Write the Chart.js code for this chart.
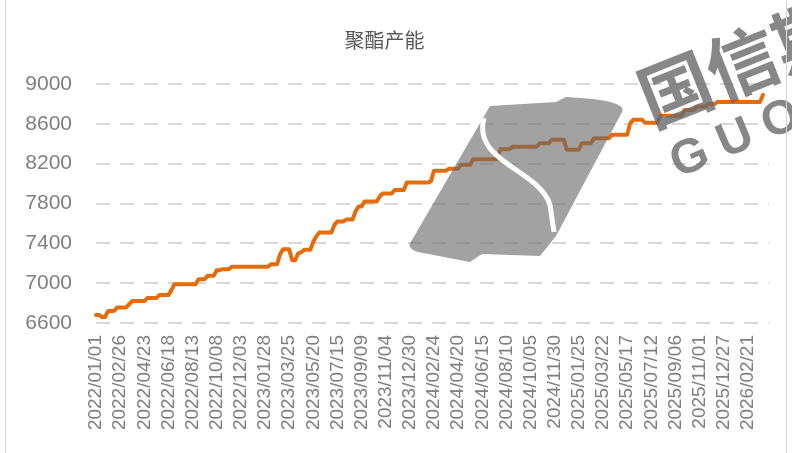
<!DOCTYPE html>
<html>
<head>
<meta charset="utf-8">
<script src="https://cdn.jsdelivr.net/npm/chart.js@4.4.1/dist/chart.umd.min.js"></script>
<style>
  html, body { margin: 0; padding: 0; background: #fff; }
  #wrap { position: relative; width: 792px; height: 453px; }
  #frame { position: absolute; left: 5px; top: 0; width: 780px; height: 453px;
           border-left: 1px solid #d9d9d9; border-right: 1px solid #d9d9d9; pointer-events: none; }
</style>
</head>
<body>
<div id="wrap">
  <canvas id="capacity" width="792" height="453"></canvas>
  <div id="frame"></div>
</div>
<script>
// weekly series starting 2022/01/01, 8 weeks per row
var firstWeek = '2022/01/01';
var weekCount = 224;

var capacity = [
  6680, 6680, 6660, 6660, 6720, 6720, 6720, 6755,
  6755, 6755, 6755, 6790, 6820, 6820, 6820, 6820,
  6820, 6850, 6850, 6850, 6850, 6880, 6880, 6880,
  6880, 6930, 6990, 6990, 6990, 6990, 6990, 6990,
  6990, 6990, 7040, 7040, 7040, 7075, 7075, 7075,
  7130, 7130, 7140, 7140, 7140, 7165, 7165, 7165,
  7165, 7165, 7165, 7165, 7165, 7165, 7165, 7165,
  7165, 7165, 7190, 7190, 7190, 7290, 7340, 7340,
  7340, 7230, 7230, 7300, 7310, 7335, 7335, 7335,
  7415, 7470, 7510, 7510, 7510, 7510, 7510, 7585,
  7620, 7620, 7620, 7640, 7640, 7640, 7720, 7770,
  7770, 7820, 7820, 7820, 7820, 7820, 7870, 7900,
  7900, 7900, 7900, 7935, 7935, 7935, 7935, 8010,
  8010, 8010, 8010, 8010, 8010, 8010, 8010, 8025,
  8130, 8130, 8130, 8130, 8130, 8150, 8150, 8150,
  8150, 8190, 8190, 8190, 8190, 8245, 8245, 8245,
  8245, 8245, 8245, 8245, 8245, 8245, 8345, 8345,
  8345, 8345, 8370, 8370, 8370, 8370, 8370, 8370,
  8370, 8370, 8370, 8405, 8405, 8405, 8405, 8440,
  8440, 8440, 8440, 8440, 8340, 8340, 8340, 8340,
  8340, 8405, 8405, 8405, 8405, 8455, 8455, 8455,
  8455, 8455, 8455, 8490, 8490, 8490, 8490, 8490,
  8490, 8605, 8640, 8640, 8640, 8640, 8610, 8610,
  8610, 8610, 8610, 8680, 8680, 8680, 8680, 8680,
  8680, 8680, 8680, 8740, 8740, 8740, 8740, 8775,
  8775, 8775, 8775, 8800, 8800, 8800, 8820, 8820,
  8820, 8820, 8820, 8820, 8820, 8820, 8820, 8820,
  8820, 8820, 8820, 8820, 8820, 8890, null, null
];

var tickLabels = [
  '2022/01/01', '2022/02/26', '2022/04/23', '2022/06/18', '2022/08/13', '2022/10/08', '2022/12/03',
  '2023/01/28', '2023/03/25', '2023/05/20', '2023/07/15', '2023/09/09', '2023/11/04', '2023/12/30',
  '2024/02/24', '2024/04/20', '2024/06/15', '2024/08/10', '2024/10/05', '2024/11/30',
  '2025/01/25', '2025/03/22', '2025/05/17', '2025/07/12', '2025/09/06', '2025/11/01', '2025/12/27',
  '2026/02/21'
];

var yTicks = [6600, 7000, 7400, 7800, 8200, 8600, 9000];

// category list: one date per week
var categories = [];
var d0 = new Date(firstWeek.replace(/\//g, '-') + 'T00:00:00Z');
for (var i = 0; i < weekCount; i++) {
  var d = new Date(d0.getTime() + i * 7 * 86400000);
  var mm = String(d.getUTCMonth() + 1).padStart(2, '0');
  var dd = String(d.getUTCDate()).padStart(2, '0');
  categories.push(d.getUTCFullYear() + '/' + mm + '/' + dd);
}

// grey company watermark drawn over the line
var watermark = {
  id: 'watermark',
  afterDatasetsDraw: function (chart) {
    var c = chart.ctx;
    c.save();
    c.fillStyle = 'rgba(105,105,105,0.62)';
    c.beginPath();
    c.moveTo(490, 106);
    c.lineTo(556, 102);
    c.lineTo(566, 97);
    c.quadraticCurveTo(628, 100, 622, 112);
    c.lineTo(556, 236);
    c.lineTo(540, 256);
    c.lineTo(482, 254);
    c.lineTo(470, 262);
    c.lineTo(418, 252);
    c.quadraticCurveTo(405, 248, 412, 240);
    c.closePath();
    c.fill();
    c.strokeStyle = '#fff';
    c.lineWidth = 5;
    c.beginPath();
    c.moveTo(484, 118);
    c.bezierCurveTo(472, 162, 540, 170, 550, 205);
    c.lineTo(554, 232);
    c.stroke();

    c.fillStyle = 'rgba(105,105,105,0.8)';
    c.translate(652, 128);
    c.rotate(-0.38);
    c.font = 'bold 72px "Noto Sans CJK SC"';
    c.fillText('国信期货', 0, 0);
    c.restore();

    c.save();
    c.fillStyle = 'rgba(105,105,105,0.8)';
    c.translate(678, 178);
    c.rotate(-0.40);
    c.font = 'bold 48px "Liberation Sans"';
    c.fillText('G U O S E N', 0, 0);
    c.restore();
  }
};

var ctx = document.getElementById('capacity').getContext('2d');

var chart = new Chart(ctx, {
  type: 'line',
  data: {
    labels: categories,
    datasets: [{
      label: '聚酯产能',
      data: capacity,
      borderColor: '#E46C0A',
      backgroundColor: '#E46C0A',
      borderWidth: 4,
      pointRadius: 0,
      tension: 0,
      borderCapStyle: 'round',
      borderJoinStyle: 'round',
      spanGaps: false
    }]
  },
  options: {
    responsive: false,
    animation: false,
    layout: { padding: { left: 0, right: 23, top: 0, bottom: 0 } },
    plugins: {
      legend: { display: false },
      tooltip: { enabled: false },
      title: {
        display: true,
        text: '聚酯产能',
        color: '#595959',
        font: { family: '"Noto Sans CJK SC", sans-serif', size: 20, weight: 'normal' },
        padding: { top: 28, bottom: 32 }
      }
    },
    scales: {
      x: {
        offset: false,
        grid: { display: false, drawTicks: false },
        border: { display: false },
        afterFit: function (scale) { scale.height = 130; },
        ticks: {
          autoSkip: false,
          minRotation: 90,
          maxRotation: 90,
          padding: 12,
          color: '#7f7f7f',
          font: { family: '"Liberation Sans", Arial, sans-serif', size: 19 },
          callback: function (v, i) {
            var lab = categories[i];
            return tickLabels.indexOf(lab) >= 0 ? lab : null;
          }
        }
      },
      y: {
        min: yTicks[0],
        max: yTicks[yTicks.length - 1],
        afterFit: function (scale) { scale.width = 96; },
        afterBuildTicks: function (scale) {
          scale.ticks = yTicks.map(function (v) { return { value: v }; });
        },
        grid: {
          color: '#d9d9d9',
          lineWidth: 2,
          drawTicks: false
        },
        border: { display: false, dash: [14, 10] },
        ticks: {
          padding: 24,
          color: '#7f7f7f',
          font: { family: '"Liberation Sans", Arial, sans-serif', size: 21 },
          callback: function (v) { return String(v); }
        }
      }
    }
  },
  plugins: [watermark]
});
</script>
</body>
</html>
